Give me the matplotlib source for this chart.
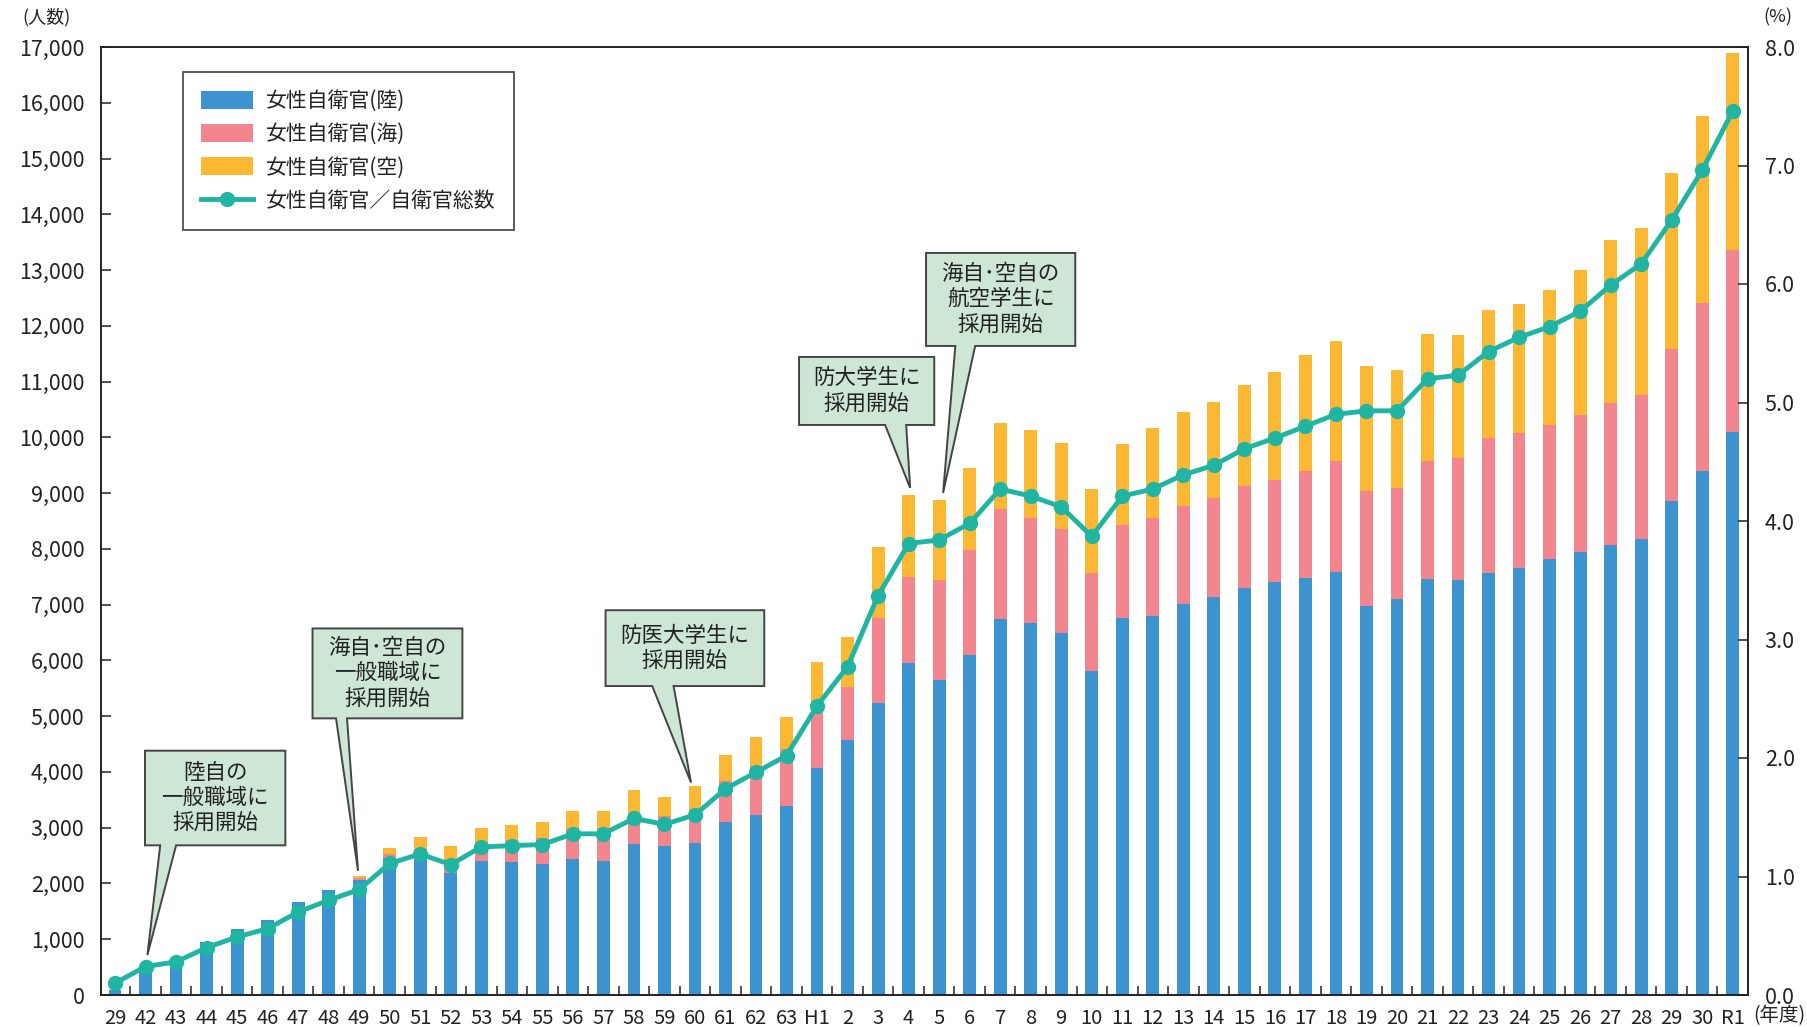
import matplotlib
matplotlib.use("Agg")
import matplotlib.pyplot as plt
from matplotlib.patches import Polygon, Patch
from matplotlib.lines import Line2D
from matplotlib.ticker import FuncFormatter, FixedLocator
import numpy as np

plt.rcParams['font.family'] = ['Noto Sans CJK JP', 'DejaVu Sans']

# ---------------- data ----------------
years = ['29', '42', '43', '44', '45', '46', '47', '48', '49', '50', '51', '52', '53', '54',
         '55', '56', '57', '58', '59', '60', '61', '62', '63', 'H1', '2', '3', '4', '5', '6',
         '7', '8', '9', '10', '11', '12', '13', '14', '15', '16', '17', '18', '19', '20', '21',
         '22', '23', '24', '25', '26', '27', '28', '29', '30', 'R1']

gsdf = [90, 520, 590, 955, 1183, 1350, 1661, 1887, 2060, 2450, 2420, 2180, 2407, 2378,
        2353, 2437, 2407, 2699, 2675, 2722, 3104, 3224, 3385, 4066, 4573, 5230, 5958, 5654,
        6101, 6746, 6675, 6496, 5803, 6752, 6794, 7003, 7138, 7295, 7401, 7486, 7578, 6976,
        7104, 7457, 7450, 7563, 7663, 7812, 7953, 8073, 8179, 8851, 9395, 10102]

msdf = [0, 0, 0, 0, 0, 0, 0, 0, 40, 70, 200, 250, 340, 400,
        455, 550, 580, 573, 537, 609, 735, 883, 1021, 1027, 955, 1522, 1538, 1783,
        1874, 1975, 1885, 1860, 1772, 1670, 1766, 1767, 1770, 1825, 1839, 1909, 2002, 2066,
        1995, 2116, 2179, 2434, 2412, 2418, 2454, 2546, 2582, 2737, 3007, 3255]

asdf = [0, 0, 0, 0, 0, 0, 0, 0, 30, 125, 206, 240, 250, 268,
        298, 316, 316, 400, 340, 418, 465, 520, 585, 877, 896, 1282, 1464, 1446,
        1482, 1542, 1577, 1548, 1493, 1464, 1606, 1677, 1732, 1817, 1924, 2087, 2150, 2235,
        2108, 2279, 2208, 2278, 2313, 2406, 2597, 2915, 2992, 3148, 3367, 3544]

ratio = [0.10, 0.24, 0.28, 0.40, 0.49, 0.56, 0.70, 0.80, 0.89, 1.11, 1.19, 1.10, 1.25, 1.26,
         1.27, 1.36, 1.36, 1.49, 1.44, 1.52, 1.74, 1.88, 2.02, 2.44, 2.77, 3.37, 3.81, 3.84,
         3.98, 4.27, 4.21, 4.12, 3.87, 4.21, 4.27, 4.39, 4.47, 4.61, 4.70, 4.80, 4.90, 4.93,
         4.93, 5.20, 5.23, 5.43, 5.55, 5.64, 5.77, 5.99, 6.17, 6.54, 6.96, 7.46]

series_labels = ['女性自衛官(陸)', '女性自衛官(海)', '女性自衛官(空)', '女性自衛官／自衛官総数']

# callouts: text, target category index
notes = [
    ('陸自の\n一般職域に\n採用開始', 1),
    ('海自･空自の\n一般職域に\n採用開始', 8),
    ('防医大学生に\n採用開始', 19),
    ('防大学生に\n採用開始', 26),
    ('海自･空自の\n航空学生に\n採用開始', 27),
]

# ---------------- style ----------------
C_BLUE = '#3d92d0'
C_PINK = '#f2858e'
C_ORANGE = '#fdb833'
C_TEAL = '#20b5a3'
C_BOX = '#cee6d6'
C_TXT = '#222222'

W, H = 1808, 1027
fig = plt.figure(figsize=(W / 100, H / 100), dpi=100)
L, R, B, T = 101, 1748, 995, 47
ax = fig.add_axes([L / W, 1 - B / H, (R - L) / W, (B - T) / H])
ax2 = ax.twinx()

x = np.arange(len(years))
gsdf_a = np.array(gsdf)
msdf_a = np.array(msdf)
asdf_a = np.array(asdf)
total = gsdf_a + msdf_a + asdf_a
bw = 0.42

ax.bar(x, gsdf_a, bw, color=C_BLUE, zorder=2)
ax.bar(x, msdf_a, bw, bottom=gsdf_a, color=C_PINK, zorder=2)
ax.bar(x, asdf_a, bw, bottom=gsdf_a + msdf_a, color=C_ORANGE, zorder=2)

ax2.plot(x, ratio, color=C_TEAL, lw=3.5, marker='o', ms=10, mec=C_TEAL, mfc=C_TEAL,
         zorder=5, solid_joinstyle='round')

ax.set_xlim(-0.46, 53.5)
ax.set_ylim(0, 17000)
ax2.set_ylim(0, 8)

# ticks
ax.set_xticks(x)
ax.set_xticklabels(years)
ax.xaxis.set_minor_locator(FixedLocator(np.arange(len(years) - 1) + 0.5))
ax.tick_params(axis='x', which='major', length=0, pad=9, labelsize=14.5, colors=C_TXT)
ax.tick_params(axis='x', which='minor', direction='in', length=6.5, width=1.1, color='#222')

ax.set_yticks(np.arange(0, 17001, 1000))
ax.yaxis.set_major_formatter(FuncFormatter(lambda v, p: f'{int(v):,}'))
ax.tick_params(axis='y', direction='in', length=7, width=1.1, pad=12, labelsize=15.5,
               colors=C_TXT)

ax2.set_yticks(np.arange(0, 8.01, 1))
ax2.yaxis.set_major_formatter(FuncFormatter(lambda v, p: f'{v:.1f}'))
ax2.tick_params(axis='y', direction='in', length=7, width=1.1, pad=12, labelsize=15.5,
                colors=C_TXT)

for a in (ax, ax2):
    for s in a.spines.values():
        s.set_linewidth(1.2)
        s.set_color('#222222')

# axis unit labels
fig.text(46 / W, 1 - 17 / H, '(人数)', ha='center', va='center', fontsize=13, color=C_TXT)
fig.text(1778 / W, 1 - 17 / H, '(%)', ha='center', va='center', fontsize=13, color=C_TXT)
fig.text(1779 / W, 1 - 1016 / H, '(年度)', ha='center', va='center', fontsize=14, color=C_TXT)

# legend
handles = [Patch(facecolor=C_BLUE), Patch(facecolor=C_PINK), Patch(facecolor=C_ORANGE),
           Line2D([0], [0], color=C_TEAL, lw=3.5, marker='o', ms=10)]
leg = ax2.legend(handles, series_labels, loc='upper left',
                 bbox_to_anchor=(183 / W, 1 - 72 / H), bbox_transform=fig.transFigure,
                 frameon=True, fancybox=False, fontsize=15, handlelength=2.5,
                 handleheight=0.95, handletextpad=0.65, labelspacing=0.55,
                 borderpad=0.85, borderaxespad=0, ncol=1)
leg.get_frame().set_edgecolor('#222222')
leg.get_frame().set_linewidth(1.3)
for t in leg.get_texts():
    t.set_color(C_TXT)
leg.set_zorder(10)

# callouts (box extents in axis data units: x index and person count)
boxes = [
    # x0, x1, y0(bottom), y1(top), base0, base1, tip dx, tip dy above bar
    (0.98, 5.58, 2684, 4381, 1.48, 2.00, 0.06, 196),
    (6.47, 11.38, 4961, 6573, 7.24, 7.60, -0.04, 97),
    (16.07, 21.27, 5540, 6900, 17.60, 18.30, -0.13, 60),
    (22.41, 26.84, 10222, 11442, 25.23, 25.92, 0.05, 133),
    (26.57, 31.46, 11639, 13307, 27.53, 28.18, 0.13, 120),
]
for (txt, idx), (x0, x1, y0, y1, b0, b1, dx, dy) in zip(notes, boxes):
    tx, ty = idx + dx, total[idx] + dy
    pts = np.array([(x0, y0), (b0, y0), (tx, ty), (b1, y0), (x1, y0), (x1, y1), (x0, y1)],
                   dtype=float)
    pts2 = ax2.transData.inverted().transform(ax.transData.transform(pts))
    ax2.add_patch(Polygon(pts2, closed=True, facecolor=C_BOX, edgecolor='#444444',
                          lw=1.4, zorder=6, joinstyle='miter'))
    ax2.text((x0 + x1) / 2, ((y0 + y1) / 2) / 17000 * 8, txt, ha='center', va='center',
             fontsize=15.5, linespacing=1.18, color=C_TXT, zorder=7)

fig.savefig('out.png', dpi=100)
